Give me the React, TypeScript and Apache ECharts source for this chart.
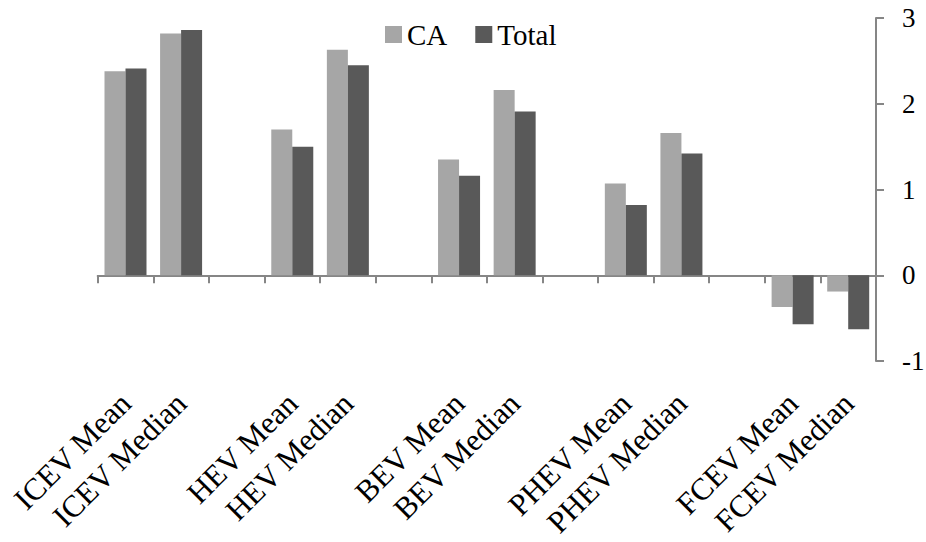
import React, { useEffect, useRef } from "react";
import * as echarts from "echarts";

const categories = [
  "ICEV Mean", "ICEV Median", "",
  "HEV Mean", "HEV Median", "",
  "BEV Mean", "BEV Median", "",
  "PHEV Mean", "PHEV Median", "",
  "FCEV Mean", "FCEV Median",
];
const caValues = [2.38, 2.82, null, 1.7, 2.63, null, 1.35, 2.16, null, 1.07, 1.66, null, -0.37, -0.19];
const totalValues = [2.41, 2.86, null, 1.5, 2.45, null, 1.16, 1.91, null, 0.82, 1.42, null, -0.57, -0.63];
const yTicks = { min: -1, max: 3, interval: 1 };

const FONT = "'Liberation Serif', 'Times New Roman', serif";
const AXIS_GRAY = "#868686";

export default function App() {
  const ref = useRef<HTMLDivElement>(null);
  useEffect(() => {
    if (!ref.current) return;
    const chart = echarts.init(ref.current, undefined, { renderer: "svg" });
    chart.setOption({
      animation: false,
      textStyle: { fontFamily: FONT },
      legend: {
        left: 380,
        top: 15,
        itemWidth: 17,
        itemHeight: 17,
        itemGap: 28,
        icon: "rect",
        textStyle: { fontFamily: FONT, fontSize: 29, color: "#000" },
        data: ["CA", "Total"],
      },
      grid: {
        left: 97.7,
        right: 50,
        top: 18,
        bottom: 181,
        containLabel: false,
        outerBoundsMode: "none",
      },
      xAxis: {
        type: "category",
        data: categories,
        axisLine: { onZero: true, lineStyle: { color: AXIS_GRAY, width: 2 } },
        axisTick: { show: true, length: 8, lineStyle: { color: AXIS_GRAY, width: 2 }, alignWithLabel: false, interval: 0 },
        axisLabel: {
          interval: 0,
          rotate: 45,
          margin: 37,
          fontFamily: FONT,
          fontSize: 31,
          color: "#000",
        },
      },
      yAxis: {
        type: "value",
        position: "right",
        min: yTicks.min,
        max: yTicks.max,
        interval: yTicks.interval,
        splitLine: { show: false },
        axisLine: { show: true, lineStyle: { color: AXIS_GRAY, width: 2 } },
        axisTick: { show: true, length: 8, inside: false, lineStyle: { color: AXIS_GRAY, width: 2 } },
        axisLabel: { margin: 26, fontFamily: FONT, fontSize: 27, color: "#000" },
      },
      series: [
        {
          name: "CA",
          type: "bar",
          data: caValues,
          barWidth: 21,
          barGap: "0%",
          itemStyle: { color: "#a6a6a6" },
        },
        {
          name: "Total",
          type: "bar",
          data: totalValues,
          barWidth: 21,
          barGap: "0%",
          itemStyle: { color: "#595959" },
        },
      ],
    });
    return () => chart.dispose();
  }, []);
  return <div ref={ref} style={{ width: 926, height: 542, position: "absolute", left: 0, top: 0 }} />;
}
